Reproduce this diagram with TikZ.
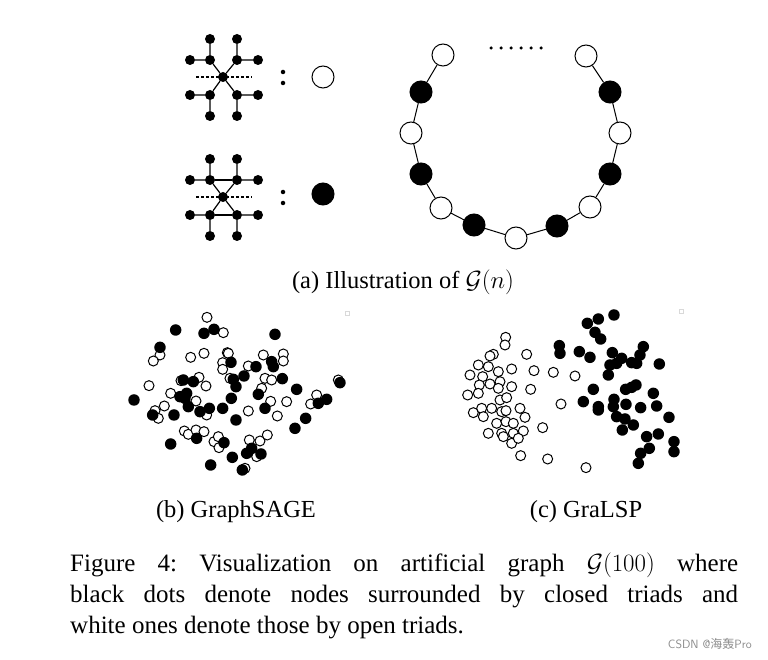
\documentclass[tikz,border=0pt]{standalone}
\usepackage{fontspec}
\setmainfont{Liberation Serif}
\newfontfamily\cjk{Noto Sans CJK SC}
\begin{document}
\frenchspacing
\begin{tikzpicture}[x=1pt,y=-1pt,
  sm/.style={circle,fill=black,inner sep=0pt,minimum size=10pt},
  big/.style={circle,draw=black,line width=1pt,inner sep=0pt,minimum size=22pt},
  wb/.style={big,fill=white},
  bb/.style={big,fill=black},
  ed/.style={line width=1.2pt},
  pw/.style={circle,draw=black,line width=1pt,fill=white,inner sep=0pt,minimum size=10pt},
  pb/.style={circle,fill=black,inner sep=0pt,minimum size=11.5pt},
  captxt/.style={font=\fontsize{24.5}{28}\selectfont,inner sep=0pt}]
\path[use as bounding box,fill=white] (0,0) rectangle (768,660);
% motifs
\foreach \k/\dy in {1/0,2/120}{
 \begin{scope}[yshift=-\dy pt]
  \node[sm] (m\k) at (223,77) {};
  \foreach \n/\x/\y in {a/210/39,b/237/39,c/190/60,d/210/60,e/237/60,f/258/60,g/190/95,h/210/95,i/237/95,j/258/95,k/210/116,l/237/116}
    \node[sm] (\n\k) at (\x,\y) {};
  \draw[ed] (a\k)--(d\k) (b\k)--(e\k) (c\k)--(d\k) (e\k)--(f\k) (g\k)--(h\k) (i\k)--(j\k) (h\k)--(k\k) (i\k)--(l\k)
    (m\k)--(d\k) (m\k)--(e\k) (m\k)--(h\k) (m\k)--(i\k);
  \coordinate (dl\k) at (196,77); \coordinate (dr\k) at (252,77);
  \draw[line width=1.2pt,dash pattern=on 3pt off 2pt] (dl\k)--(dr\k);
  \node[circle,fill=black,inner sep=0pt,minimum size=4.5pt] (ca\k) at (283,72) {};
  \node[circle,fill=black,inner sep=0pt,minimum size=4.5pt] (cb\k) at (283,83) {};
 \end{scope}}
\draw[ed] (d2)--(e2) (h2)--(i2);
\node[wb] (lw) at (323,77) {};
\node[bb] (lb) at (323,194) {};
% ring
\foreach \n/\x/\y/\s in {r1/443/55/wb,r2/421/92/bb,r3/411/133/wb,r4/421/174/bb,r5/441/208/wb,r6/474/225/bb,r7/516/238/wb,r8/557/226/bb,r9/590/207/wb,r10/610/174/bb,r11/620/133/wb,r12/610/92/bb,r13/586/56/wb}
  \node[\s] (\n) at (\x,\y) {};
\draw[line width=1pt] (r1)--(r2)--(r3)--(r4)--(r5)--(r6)--(r7)--(r8)--(r9)--(r10)--(r11)--(r12)--(r13);
\foreach \i in {0,...,5}
  \node[circle,fill=black,inner sep=0pt,minimum size=3.5pt] (dd\i) at (491+\i*10,48) {};
\node[captxt] (capa) at (403,282) {(a) Illustration of $\mathcal{G}(n)$};
% scatter b
\begin{scope}[shift={(120,300)},x=0.3333pt,y=-0.3333pt]
\foreach \x/\y [count=\i] in {261/52,310/98,120/165,100/183,212/172,252/160,322/158,308/188,308/208,385/198,430/165,490/162,490/183,435/235,455/240,330/235,325/160,183/242,237/232,258/258,87/257,152/280,228/303,133/318,105/332,115/355,260/345,385/333,425/265,452/304,500/305,472/348,572/312,590/285,655/240,193/393,205/403,228/390,252/395,282/425,295/410,297/443,388/420,420/423,442/405,410/470,375/505}
  \node[pw] (bw\i) at (\x,\y) {};
\foreach \x/\y [count=\i] in {167/90,252/100,282/88,465/103,120/142,333/187,408/200,455/185,460/200,372/228,340/238,348/260,487/236,190/240,220/245,200/280,180/290,195/295,42/300,334/295,530/268,415/283,620/298,595/310,660/248,205/320,240/335,268/325,308/325,162/345,98/345,348/360,435/325,557/355,525/385,152/432,230/415,312/428,337/472,380/460,395/445,423/462,272/495,367/510}
  \node[pb] (bb\i) at (\x,\y) {};
\node[draw=black!15,inner sep=0pt,minimum size=4pt] (sqb) at (683,40) {};
\end{scope}
% scatter c
\begin{scope}[shift={(450,300)},x=0.3333pt,y=-0.3333pt]
\foreach \x/\y [count=\i] in {167/112,165/135,130/163,120/168,85/195,115/200,145/215,60/225,98/230,150/245,88/255,120/252,185/207,230/163,252/212,310/217,375/228,53/285,85/280,145/265,150/300,170/293,185/260,242/268,70/338,95/325,100/350,125/325,155/335,168/332,210/325,225/352,140/370,168/365,190/370,115/400,155/400,160/410,190/400,220/393,185/430,205/415,278/383,333/312,212/467,293/477,408/503}
  \node[pw] (cw\i) at (\x,\y) {};
\foreach \x/\y [count=\i] in {492/45,445/57,412/70,435/97,452/117,328/137,330/160,388/155,420/172,487/158,515/175,545/188,580/140,570/165,480/195,500/190,560/190,628/192,475/225,527/268,545/262,558/255,430/268,400/305,445/320,445/330,492/298,490/320,528/313,572/323,610/280,620/318,500/350,525/357,550/375,517/390,657/352,590/410,625/402,672/425,672/455,598/445,572/460,565/490}
  \node[pb] (cb\i) at (\x,\y) {};
\node[draw=black!15,inner sep=0pt,minimum size=4pt] (sqc) at (693,35) {};
\end{scope}
\node[captxt] (capb) at (236,512) {(b) GraphSAGE};
\node[captxt] (capc) at (586,512) {(c) GraLSP};
\node[anchor=north west,inner sep=0pt] (fig) at (70,553) {\parbox{668pt}{\fontsize{25}{31}\selectfont
Figure 4: Visualization on artificial graph $\mathcal{G}(100)$ where\linebreak
black dots denote nodes surrounded by closed triads and\linebreak
white ones denote those by open triads.}};
\node[text=black!45,font=\fontsize{12}{14}\selectfont\sffamily,anchor=east,inner sep=0pt] (wm) at (752,644) {CSDN @{\cjk 海轰}Pro};
\end{tikzpicture}
\end{document}
